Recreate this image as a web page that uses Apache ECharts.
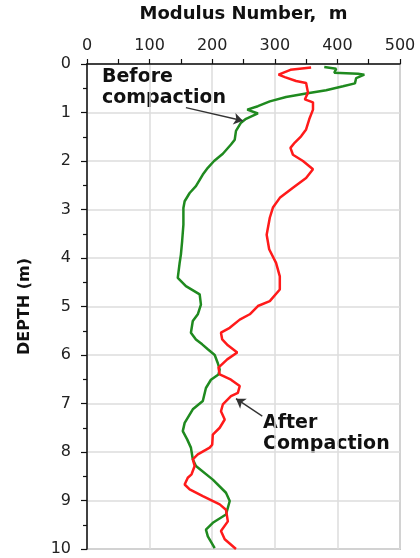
<!DOCTYPE html>
<html>
<head>
<meta charset="utf-8">
<script src="https://cdn.jsdelivr.net/npm/echarts@6/dist/echarts.min.js"></script>
<style>
  html, body { margin: 0; padding: 0; background: #fff; }
  #chart { width: 420px; height: 558px; }
</style>
</head>
<body>
<div id="chart"></div>
<script>
// Modulus number profile with depth, before and after compaction
const beforeDepth = [0.06, 0.10, 0.18, 0.20, 0.22, 0.29, 0.40, 0.46, 0.54, 0.61, 0.68, 0.77, 0.87, 0.94, 1.02, 1.13, 1.21, 1.38, 1.56, 1.66, 1.85, 2.00, 2.14, 2.28, 2.52, 2.66, 2.83, 2.97, 3.31, 3.65, 3.93, 4.10, 4.41, 4.58, 4.75, 4.96, 5.16, 5.30, 5.54, 5.68, 5.78, 5.88, 6.00, 6.17, 6.30, 6.40, 6.51, 6.68, 6.95, 7.12, 7.40, 7.57, 7.74, 7.91, 8.15, 8.29, 8.57, 8.84, 9.01, 9.29, 9.46, 9.60, 9.74, 9.98];
const beforeModulus = [379, 398, 395, 433, 443, 430, 428, 409, 382, 350, 318, 292, 273, 256, 273, 254, 246, 238, 236, 230, 217, 203, 193, 185, 174, 164, 156, 154, 154, 152, 150, 148, 145, 158, 180, 182, 177, 169, 166, 174, 184, 193, 204, 209, 212, 210, 198, 190, 185, 169, 156, 153, 160, 166, 169, 174, 201, 222, 228, 222, 201, 190, 193, 204];

const afterDepth = [0.07, 0.12, 0.22, 0.27, 0.35, 0.39, 0.59, 0.73, 0.79, 0.94, 1.14, 1.35, 1.49, 1.62, 1.73, 1.87, 2.00, 2.17, 2.35, 2.55, 2.76, 2.96, 3.17, 3.52, 3.82, 4.10, 4.38, 4.65, 4.89, 4.99, 5.16, 5.27, 5.44, 5.54, 5.68, 5.80, 5.95, 6.09, 6.26, 6.40, 6.51, 6.64, 6.78, 6.85, 7.02, 7.16, 7.33, 7.50, 7.64, 7.85, 7.91, 8.05, 8.15, 8.29, 8.46, 8.53, 8.67, 8.77, 8.91, 9.08, 9.19, 9.43, 9.63, 9.80, 10.0];
const afterModulus = [358, 325, 306, 316, 334, 350, 353, 348, 361, 361, 355, 350, 342, 332, 325, 329, 345, 361, 350, 329, 308, 297, 292, 287, 291, 302, 308, 308, 292, 273, 260, 244, 228, 214, 216, 225, 240, 224, 210, 212, 230, 244, 241, 230, 217, 214, 220, 212, 201, 200, 196, 177, 169, 172, 167, 161, 156, 164, 185, 212, 222, 225, 214, 220, 238];

const modulusTicks = [0, 100, 200, 300, 400, 500];
const depthTicks = [0, 1, 2, 3, 4, 5, 6, 7, 8, 9, 10];

// Callout arrows: [modulus, depth] from the label to the curve
const beforeArrow = [[158, 0.90], [249, 1.17]];
const afterArrow = [[280, 7.26], [238, 6.90]];

const pairs = (xs, ys) => xs.map((x, i) => [x, ys[i]]);

const FONT = '"DejaVu Sans", "Liberation Sans", Arial, sans-serif';

const chart = echarts.init(document.getElementById('chart'), null, { renderer: 'canvas' });

chart.setOption({
  animation: false,
  backgroundColor: '#ffffff',
  grid: {
    left: 87, top: 64, width: 313, height: 485,
    show: true, borderColor: '#9a9a9a', borderWidth: 1.5, backgroundColor: '#ffffff'
  },
  xAxis: {
    type: 'value',
    position: 'top',
    min: modulusTicks[0],
    max: modulusTicks[modulusTicks.length - 1],
    interval: 100,
    name: 'Modulus Number,  m',
    nameLocation: 'middle',
    nameGap: 41,
    nameTextStyle: { fontFamily: FONT, fontWeight: 'bold', fontSize: 18, color: '#111' },
    axisLine: { show: true, lineStyle: { color: '#111', width: 1.5 } },
    axisTick: { show: true, inside: false, length: 5, lineStyle: { color: '#111', width: 1.2 } },
    minorTick: { show: true, splitNumber: 2, length: 5, lineStyle: { color: '#111', width: 1.2 } },
    axisLabel: { fontFamily: FONT, fontSize: 16, color: '#222', margin: 10 },
    splitLine: { show: true, lineStyle: { color: '#dcdcdc', width: 1.5 } }
  },
  yAxis: {
    type: 'value',
    inverse: true,
    min: depthTicks[0],
    max: depthTicks[depthTicks.length - 1],
    interval: 1,
    name: 'DEPTH (m)',
    nameLocation: 'middle',
    nameRotate: 90,
    nameGap: 54,
    nameTextStyle: { fontFamily: FONT, fontWeight: 'bold', fontSize: 16, color: '#111' },
    axisLine: { show: true, lineStyle: { color: '#111', width: 1.5 } },
    axisTick: { show: true, inside: false, length: 6, lineStyle: { color: '#111', width: 1.2 } },
    minorTick: { show: true, splitNumber: 2, length: 4, lineStyle: { color: '#111', width: 1.2 } },
    axisLabel: { fontFamily: FONT, fontSize: 16, color: '#222', margin: 16 },
    splitLine: { show: true, lineStyle: { color: '#dcdcdc', width: 1.5 } }
  },
  series: [
    {
      name: 'Before compaction',
      type: 'line',
      data: pairs(beforeModulus, beforeDepth),
      showSymbol: false,
      lineStyle: { color: '#1f8a1f', width: 2.5 },
      markLine: {
        silent: true,
        symbol: ['none', 'arrow'],
        symbolSize: 9,
        label: { show: false },
        lineStyle: { color: '#333', width: 1.3, type: 'solid' },
        data: [[{ coord: beforeArrow[0] }, { coord: beforeArrow[1] }]]
      }
    },
    {
      name: 'After Compaction',
      type: 'line',
      data: pairs(afterModulus, afterDepth),
      showSymbol: false,
      lineStyle: { color: '#ff1a1a', width: 2.5 },
      markLine: {
        silent: true,
        symbol: ['none', 'arrow'],
        symbolSize: 9,
        label: { show: false },
        lineStyle: { color: '#333', width: 1.3, type: 'solid' },
        data: [[{ coord: afterArrow[0] }, { coord: afterArrow[1] }]]
      }
    }
  ],
  graphic: [
    {
      type: 'text', left: 102, top: 67,
      style: { text: 'Before\ncompaction', font: 'bold 19px ' + FONT, lineHeight: 21, fill: '#111' }
    },
    {
      type: 'text', left: 263, top: 413,
      style: { text: 'After\nCompaction', font: 'bold 19px ' + FONT, lineHeight: 21, fill: '#111' }
    }
  ]
});
</script>
</body>
</html>
